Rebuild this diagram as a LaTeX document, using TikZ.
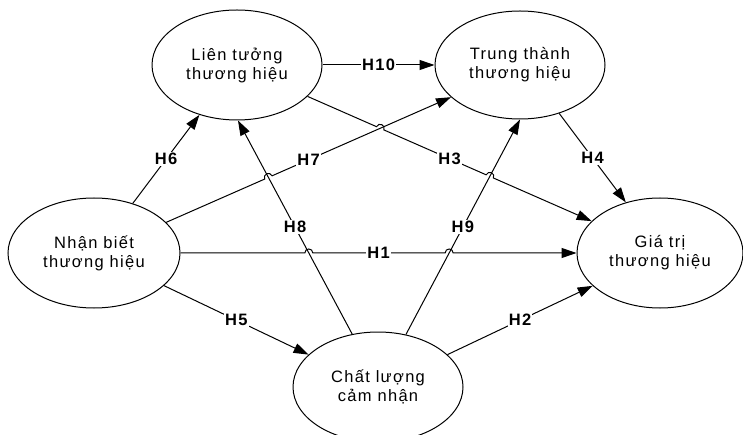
\documentclass[tikz,border=0pt]{standalone}
\usepackage{fontspec}
\setmainfont{Liberation Sans}[LetterSpace=8]
\usetikzlibrary{shapes.geometric,arrows.meta,calc,intersections}
\tikzset{
  construct/.style={ellipse, draw, line width=1pt, minimum width=170pt, minimum height=110pt,
    inner sep=0pt, align=center, text=black, font=\fontsize{16.5}{19}\selectfont},
  rel/.style={line width=1pt, -{Triangle[length=15pt,width=10pt]}},
  hyp/.style={font=\fontsize{16.5}{19}\selectfont\bfseries, fill=white, inner sep=1.2pt},
}
% hop: #1 name, #2 start, #3 end, #4 crossing point
\newcommand\mkhop[4]{%
  \coordinate (#1a) at ($(#4)!4pt!(#2)$);
  \coordinate (#1b) at ($(#4)!4pt!(#3)$);
  \coordinate (#1c) at ($(#1a)!5.33pt!90:(#3)$);
  \coordinate (#1d) at ($(#1b)!5.33pt!-90:(#2)$);
}
\begin{document}
\begin{tikzpicture}[x=1pt,y=-1pt]
\useasboundingbox (0,0) rectangle (743,435);
\node[construct] (L) at (237,65) {Liên tưởng\\thương hiệu};
\node[construct, minimum height=108pt] (T) at (520,65) {Trung thành\\thương hiệu};
\node[construct, minimum width=172pt] (N) at (94,253) {Nhận biết\\thương hiệu};
\node[construct, minimum width=166pt] (G) at (660,253) {Giá trị\\thương hiệu};
\node[construct] (C) at (378,387) {Chất lượng\\cảm nhận};

% end points
\coordinate (s7) at (N.23.6);  \coordinate (e7) at (T.-155);
\coordinate (s8) at (C.116.6); \coordinate (e8) at (L.-89);
\coordinate (s9) at (C.62);    \coordinate (e9) at (T.-90);
\coordinate (s3) at (L.-24.6); \coordinate (e3) at (G.155.5);
\coordinate (s1) at (N.0);     \coordinate (e1) at (G.180);

\path[name path=p7] (s7) -- (e7);
\path[name path=p8] (s8) -- (e8);
\path[name path=p9] (s9) -- (e9);
\path[name path=p3] (s3) -- (e3);
\path[name path=p1] (s1) -- (e1);
\path[name intersections={of=p7 and p8, by=x78}];
\path[name intersections={of=p3 and p7, by=x37}];
\path[name intersections={of=p3 and p9, by=x39}];
\path[name intersections={of=p1 and p8, by=x18}];
\path[name intersections={of=p1 and p9, by=x19}];
\mkhop{h78}{s7}{e7}{x78}
\mkhop{h37}{s3}{e3}{x37}
\mkhop{h39}{s3}{e3}{x39}
\mkhop{h18}{s1}{e1}{x18}
\mkhop{h19}{s1}{e1}{x19}

% connectors
\draw[rel] (L.0) -- (T.180);
\draw[rel] (N.52.8) -- (L.-127);
\draw[rel] (s7) -- (h78a) .. controls (h78c) and (h78d) .. (h78b) -- (e7);
\draw[rel] (s3) -- (h37a) .. controls (h37c) and (h37d) .. (h37b)
  -- (h39a) .. controls (h39c) and (h39d) .. (h39b) -- (e3);
\draw[rel] (T.-51.6) -- (G.124);
\draw[rel] (s1) -- (h18a) .. controls (h18c) and (h18d) .. (h18b)
  -- (h19a) .. controls (h19c) and (h19d) .. (h19b) -- (e1);
\draw[rel] (N.-25.9) -- (C.155);
\draw[rel] (C.25) -- (G.-154);
\draw[rel] (s8) -- (e8);
\draw[rel] (s9) -- (e9);

% labels
\node[hyp] (l10) at ($(L.0)!0.5!(T.180)$) {H10};
\node[hyp] (l6) at ($(N.52.8)!0.5!(L.-127)$) {H6};
\node[hyp] (l7) at ($(s7)!0.5!(e7)$) {H7};
\node[hyp] (l3) at ($(s3)!0.5!(e3)$) {H3};
\node[hyp] (l4) at ($(T.-51.6)!0.5!(G.124)$) {H4};
\node[hyp] (l1) at ($(s1)!0.5!(e1)$) {H1};
\node[hyp] (l5) at ($(N.-25.9)!0.5!(C.155)$) {H5};
\node[hyp] (l2) at ($(C.25)!0.5!(G.-154)$) {H2};
\node[hyp] (l8) at ($(s8)!0.5!(e8)$) {H8};
\node[hyp] (l9) at ($(s9)!0.5!(e9)$) {H9};
\end{tikzpicture}
\end{document}
